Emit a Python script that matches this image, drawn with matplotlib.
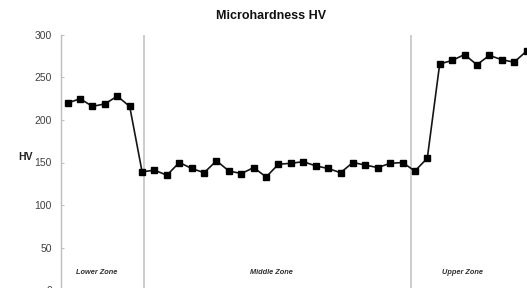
import matplotlib
matplotlib.use("Agg")
import matplotlib.pyplot as plt

plt.rcParams['font.family'] = ['Liberation Sans', 'DejaVu Sans']

# hardness readings along the weld, one per indent
lower_zone = [220, 225, 216, 219, 228, 216]
middle_zone = [139, 141, 135, 150, 143, 138, 152, 140, 137, 144, 133, 148,
               149, 151, 146, 143, 138, 150, 147, 144, 149, 150, 140, 155]
upper_zone = [266, 270, 277, 265, 276, 271, 268, 281]
hv = lower_zone + middle_zone + upper_zone
idx = list(range(len(hv)))

zone_names = ['Lower Zone', 'Middle Zone', 'Upper Zone']
zone_bounds = [6.15, 27.7]
yticks = [0, 50, 100, 150, 200, 250, 300]

fig = plt.figure(figsize=(5.27, 2.88), dpi=100)
ax = fig.add_axes([61 / 527, -2 / 288, 1 - 61 / 527, 255 / 288])

for b in zone_bounds:
    ax.axvline(b, color='#c4c4c4', lw=1.2, zorder=1)

ax.plot(idx, hv, color='#151515', lw=1.2, marker='s', markersize=4.2,
        markerfacecolor='#000000', markeredgecolor='#000000', zorder=3)

ax.set_xlim(-0.54, 37.04)
ax.set_ylim(0, 300)
ax.set_yticks(yticks)
ax.tick_params(axis='y', direction='in', length=2, width=0.8, color='#c0c0c0',
               labelsize=7.5, labelcolor='#404040', pad=6.5)
ax.set_xticks([])

for s in ['top', 'right', 'bottom']:
    ax.spines[s].set_visible(False)
ax.spines['left'].set_color('#bdbdbd')
ax.spines['left'].set_linewidth(1.0)

ax.set_ylabel('HV', rotation=0, fontsize=7.5, fontweight='bold', color='#202020')
ax.yaxis.set_label_coords(-0.077, 0.5)

# zone captions at the foot of each band
zone_x = [2.36, 16.4, 31.8]
for name, zx in zip(zone_names, zone_x):
    ax.text(zx, 20, name, ha='center', va='center', fontsize=5.3,
            fontweight='bold', fontstyle='italic', color='#303030')

fig.text(271.5 / 527, 1 - 16 / 288, 'Microhardness HV', ha='center', va='center',
         fontsize=9, fontweight='bold', color='#111111')

fig.savefig('out.png', dpi=100)
